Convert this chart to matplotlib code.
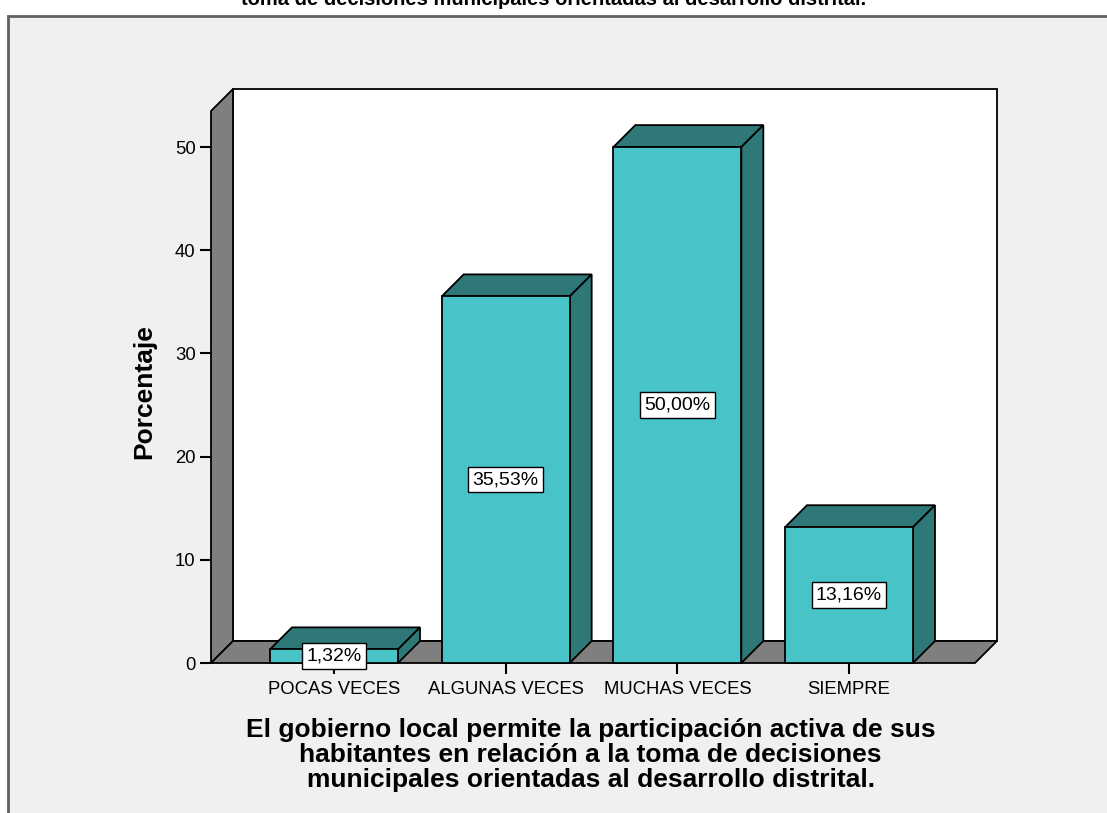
import matplotlib
matplotlib.use("Agg")
import matplotlib.pyplot as plt
from matplotlib.patches import Polygon, Rectangle

plt.rcParams['font.family'] = ['Liberation Sans', 'DejaVu Sans']

# datos
categorias = ['POCAS VECES', 'ALGUNAS VECES', 'MUCHAS VECES', 'SIEMPRE']
porcentajes = [1.32, 35.53, 50.00, 13.16]
etiquetas = ['1,32%', '35,53%', '50,00%', '13,16%']
y_ticks = [0, 10, 20, 30, 40, 50]

titulo = 'toma de decisiones municipales orientadas al desarrollo distrital.'
x_titulo = ('El gobierno local permite la participación activa de sus\n'
            'habitantes en relación a la toma de decisiones\n'
            'municipales orientadas al desarrollo distrital.')

# colores
c_frente = '#48c3c7'
c_oscuro = '#2e7878'
c_gris = '#7f7f7f'

W, H = 1107, 813
fig = plt.figure(figsize=(W / 100, H / 100), dpi=100, facecolor='white')

# panel gris de fondo
fig.patches.append(Rectangle((8 / W, -0.01), 1.0, 1.01 - 16 / H, transform=fig.transFigure,
                             facecolor='#f0f0f0', edgecolor='#606060', linewidth=2, zorder=-5))
fig.text(0.5, 1 - 5 / H, titulo, ha='center', va='baseline', fontsize=14.5, fontweight='bold')

ax = fig.add_axes([211 / W, 1 - 663 / H, 764 / W, 552 / H])
x0, x1 = -0.7165, 3.734
ymax = 53.5
ax.set_xlim(x0, x1)
ax.set_ylim(0, ymax)
ax.patch.set_visible(False)
for s in ax.spines.values():
    s.set_visible(False)

# profundidad 3D (22 px)
dx = 22 * (x1 - x0) / 764
dy = 22 * ymax / 552
bw = 128 * (x1 - x0) / 764
ec = dict(edgecolor='black', linewidth=1.3, clip_on=False)

# pared trasera, pared izquierda, piso
ax.add_patch(Polygon([(x0 + dx, dy), (x1 + dx, dy), (x1 + dx, ymax + dy), (x0 + dx, ymax + dy)],
                     facecolor='white', zorder=1, **ec))
ax.add_patch(Polygon([(x0, 0), (x0 + dx, dy), (x0 + dx, ymax + dy), (x0, ymax)],
                     facecolor=c_gris, zorder=2, **ec))
ax.add_patch(Polygon([(x0, 0), (x1, 0), (x1 + dx, dy), (x0 + dx, dy)],
                     facecolor=c_gris, zorder=2, **ec))

# barras
for i, v in enumerate(porcentajes):
    l, r = i - bw / 2, i + bw / 2
    ax.add_patch(Polygon([(l, v), (r, v), (r + dx, v + dy), (l + dx, v + dy)],
                         facecolor=c_oscuro, zorder=3, **ec))
    ax.add_patch(Polygon([(r, 0), (r + dx, dy), (r + dx, v + dy), (r, v)],
                         facecolor=c_oscuro, zorder=3, **ec))
    ax.add_patch(Rectangle((l, 0), bw, v, facecolor=c_frente, zorder=4, **ec))
    ax.text(i, v / 2, etiquetas[i], ha='center', va='center', fontsize=14, zorder=6,
            bbox=dict(boxstyle='square,pad=0.22', facecolor='white', edgecolor='black', linewidth=1))

ax.set_yticks(y_ticks)
ax.set_xticks(range(len(categorias)))
ax.set_xticklabels(categorias)
ax.tick_params(axis='both', direction='out', length=8, width=1.5, labelsize=13.3, pad=3)
ax.tick_params(axis='x', pad=5)

ax.set_ylabel('Porcentaje', fontsize=19, fontweight='bold')
ax.yaxis.set_label_coords(-0.072, 0.491)
ax.set_xlabel(x_titulo, fontsize=19, fontweight='bold', linespacing=1.05)
ax.xaxis.set_label_coords(0.497, -0.1)

plt.savefig('out.png', dpi=100)
